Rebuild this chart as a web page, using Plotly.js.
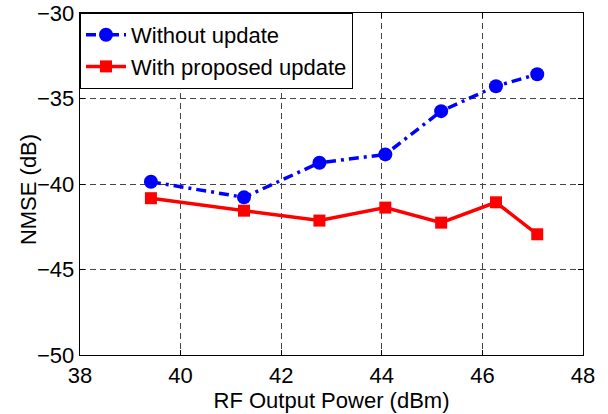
<!DOCTYPE html>
<html><head><meta charset="utf-8">
<script src="https://cdn.plot.ly/plotly-3.0.1.min.js"></script>
<style>html,body{margin:0;padding:0;background:#fff}#plot{width:608px;height:414px}</style>
</head><body><div id="plot"></div>
<script>
const rfPower = [39.41, 41.26, 42.76, 44.07, 45.18, 46.27, 47.09];
const nmseWithout = [-39.87, -40.78, -38.76, -38.27, -35.74, -34.28, -33.58];
const nmseWith = [-40.83, -41.56, -42.14, -41.38, -42.26, -41.07, -42.94];
const seriesNames = ['Without update', 'With proposed update'];
const xTicks = [38, 40, 42, 44, 46, 48];
const yTicks = [-50, -45, -40, -35, -30];
const xTitle = 'RF Output Power (dBm)';
const yTitle = 'NMSE (dB)';

const font = 'Liberation Sans, Arial, sans-serif';
const traces = [
  {x: rfPower, y: nmseWithout, name: seriesNames[0], mode: 'lines+markers', type: 'scatter',
   line: {color: 'rgb(0,0,255)', width: 3.5, dash: '10px,5px,3px,5px'},
   marker: {symbol: 'circle', size: 14, color: 'rgb(0,0,255)'}},
  {x: rfPower, y: nmseWith, name: seriesNames[1], mode: 'lines+markers', type: 'scatter',
   line: {color: 'rgb(255,0,0)', width: 3.5},
   marker: {symbol: 'square', size: 12, color: 'rgb(255,0,0)'}}
];
const axisCommon = {
  showline: true, mirror: 'ticks', linecolor: '#000', linewidth: 1.3,
  ticks: 'inside', ticklen: 5, tickcolor: '#000',
  showgrid: true, gridcolor: '#444', griddash: '6px,4px', gridwidth: 1,
  zeroline: false, tickfont: {family: font, size: 22, color: '#000'}
};
const layout = {
  width: 608, height: 414,
  margin: {l: 80, r: 25, t: 13, b: 59},
  paper_bgcolor: '#fff', plot_bgcolor: '#fff',
  showlegend: true,
  legend: {x: 0, y: 1, xanchor: 'left', yanchor: 'top', bgcolor: '#fff',
    bordercolor: '#000', borderwidth: 1, font: {family: font, size: 22, color: '#000'},
    tracegroupgap: 0, itemwidth: 40},
  xaxis: Object.assign({}, axisCommon, {range: [38, 48], tickvals: xTicks,
    title: {text: xTitle, font: {family: font, size: 22, color: '#000'}, standoff: 0}}),
  yaxis: Object.assign({}, axisCommon, {range: [-50, -30], tickvals: yTicks}),
  annotations: [{text: yTitle, xref: 'paper', yref: 'paper', x: -0.1034, y: 0.485,
    xanchor: 'center', yanchor: 'middle', textangle: -90, showarrow: false,
    font: {family: font, size: 22, color: '#000'}}]
};
Plotly.newPlot('plot', traces, layout, {displayModeBar: false, staticPlot: true});
</script></body></html>
